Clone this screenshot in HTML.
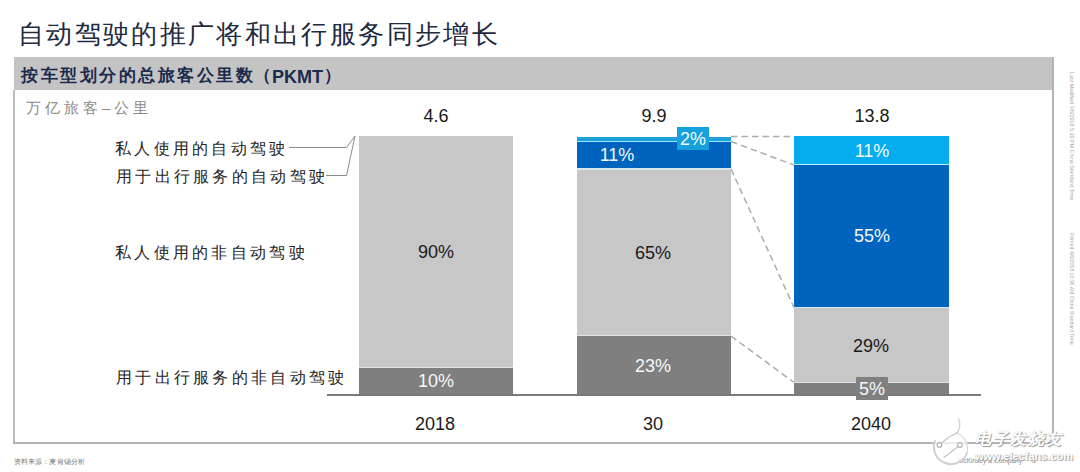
<!DOCTYPE html>
<html><head><meta charset="utf-8">
<style>
html,body{margin:0;padding:0;background:#fff;}
body{width:1080px;height:472px;position:relative;overflow:hidden;font-family:"Liberation Sans",sans-serif;}
.a{position:absolute;}
.t{position:absolute;white-space:nowrap;line-height:1;}
.num{font-size:18px;color:#1a1a1a;text-align:center;width:80px;}
.w{color:#f4f8fb;}
.cj{font-size:16px;letter-spacing:3.3px;color:#262626;}
</style></head><body>
<!-- title -->
<div class="t" style="left:18px;top:21px;font-size:26px;letter-spacing:2.35px;color:#1f2b3f;">自动驾驶的推广将和出行服务同步增长</div>
<!-- header bar -->
<div class="a" style="left:14px;top:57px;width:1040px;height:33px;background:#c4c4c4;"></div>
<div class="t" style="left:21px;top:67px;font-size:17px;font-weight:bold;letter-spacing:2.5px;color:#1a2b4c;">按车型划分的总旅客公里数</div>
<div class="t" style="left:254px;top:67px;font-size:17px;font-weight:bold;color:#1a2b4c;">（</div>
<div class="t" style="left:272px;top:68px;font-size:18px;font-weight:bold;color:#1a2b4c;">PKMT</div>
<div class="t" style="left:324px;top:67px;font-size:17px;font-weight:bold;color:#1a2b4c;">）</div>
<!-- frame -->
<div class="a" style="left:13px;top:90px;width:2px;height:354px;background:#bcbcbc;"></div>
<div class="a" style="left:13px;top:442px;width:1041px;height:2px;background:#b4b4b4;"></div>
<div class="a" style="left:1052px;top:57px;width:2px;height:387px;background:#b4b4b4;"></div>
<!-- unit -->
<div class="t" style="left:26px;top:100px;font-size:15px;letter-spacing:4px;color:#8a8a8a;">万亿旅客–公里</div>

<!-- bars -->
<div class="a" style="left:359px;top:136px;width:154px;height:231px;background:#c7c7c7;"></div>
<div class="a" style="left:359px;top:367px;width:154px;height:1px;background:#e2e2e2;"></div>
<div class="a" style="left:359px;top:368px;width:154px;height:27px;background:#7f7f7f;"></div>

<div class="a" style="left:577px;top:137px;width:154px;height:4px;background:#1e9fd6;"></div>
<div class="a" style="left:577px;top:141px;width:154px;height:1px;background:#8fe6ff;"></div>
<div class="a" style="left:577px;top:142px;width:154px;height:26px;background:#0064be;"></div>
<div class="a" style="left:577px;top:168px;width:154px;height:2px;background:#d6e8f2;"></div>
<div class="a" style="left:577px;top:170px;width:154px;height:165px;background:#c7c7c7;"></div>
<div class="a" style="left:577px;top:335px;width:154px;height:1px;background:#e2e2e2;"></div>
<div class="a" style="left:577px;top:336px;width:154px;height:59px;background:#7f7f7f;"></div>

<div class="a" style="left:794px;top:136px;width:155px;height:28px;background:#05adef;"></div>
<div class="a" style="left:794px;top:164px;width:155px;height:1px;background:#bff0ff;"></div>
<div class="a" style="left:794px;top:165px;width:155px;height:142px;background:#0064be;"></div>
<div class="a" style="left:794px;top:307px;width:155px;height:1px;background:#d6e8f2;"></div>
<div class="a" style="left:794px;top:308px;width:155px;height:74px;background:#c7c7c7;"></div>
<div class="a" style="left:794px;top:382px;width:155px;height:1px;background:#e2e2e2;"></div>
<div class="a" style="left:794px;top:383px;width:155px;height:12px;background:#7f7f7f;"></div>

<!-- baseline -->
<div class="a" style="left:327px;top:394px;width:654px;height:2px;background:#7a7a7a;"></div>

<!-- label boxes -->
<div class="a" style="left:677px;top:127px;width:32px;height:23px;background:#16a0dc;"></div>
<div class="a" style="left:856px;top:377px;width:32px;height:23px;background:#808080;"></div>

<svg class="a" style="left:0;top:0" width="1080" height="472">
  <g stroke="#acacac" stroke-width="1.5" stroke-dasharray="6.5 4" fill="none">
    <line x1="731" y1="136.5" x2="794" y2="136.5"/>
    <line x1="731" y1="141.5" x2="794" y2="165"/>
    <line x1="731" y1="169" x2="794" y2="307.5"/>
    <line x1="731" y1="336" x2="794" y2="382.5"/>
  </g>
  <g stroke="#8c8c8c" stroke-width="1" fill="none">
    <polyline points="289,147.5 346.5,147.5 355,136"/>
    <polyline points="326,175.5 346.5,175.5 355,136"/>
  </g>
</svg>

<!-- numbers -->
<div class="t num" style="left:396px;top:107px;">4.6</div>
<div class="t num" style="left:614px;top:107px;">9.9</div>
<div class="t num" style="left:832px;top:107px;">13.8</div>

<div class="t num" style="left:396px;top:243px;">90%</div>
<div class="t num w" style="left:396px;top:372px;">10%</div>

<div class="t num w" style="left:577px;top:146px;">11%</div>
<div class="t num w" style="left:653px;top:130px;">2%</div>
<div class="t num" style="left:613px;top:244px;">65%</div>
<div class="t num w" style="left:613px;top:357px;">23%</div>

<div class="t num w" style="left:832px;top:142px;">11%</div>
<div class="t num w" style="left:832px;top:227px;">55%</div>
<div class="t num" style="left:831px;top:337px;">29%</div>
<div class="t num w" style="left:832px;top:380px;">5%</div>

<div class="t num" style="left:395px;top:415px;">2018</div>
<div class="t num" style="left:613px;top:415px;">30</div>
<div class="t num" style="left:831px;top:415px;">2040</div>

<!-- left labels -->
<div class="t cj" style="left:115px;top:141px;">私人使用的自动驾驶</div>
<div class="t cj" style="left:116px;top:169px;">用于出行服务的自动驾驶</div>
<div class="t cj" style="left:115px;top:245px;">私人使用的非自动驾驶</div>
<div class="t cj" style="left:116px;top:370px;">用于出行服务的非自动驾驶</div>

<!-- source -->
<div class="t" style="left:14px;top:458px;font-size:7px;color:#7a7a7a;letter-spacing:0.1px;">资料来源：麦肯锡分析</div>

<!-- rotated side texts -->
<div class="t" style="left:1066px;top:72px;font-size:5.4px;color:#a8a8a8;transform-origin:0 0;transform:translate(8px,0) rotate(90deg);">Last Modified 4/6/2018 5:30 PM China Standard Time</div>
<div class="t" style="left:1066px;top:233px;font-size:5.2px;color:#a8a8a8;transform-origin:0 0;transform:translate(8px,0) rotate(90deg);">Printed 4/6/2018 10:36 AM China Standard Time</div>

<!-- watermark -->
<div class="t" style="left:958px;top:458px;font-size:6.5px;color:#8a8a8a;">McKinsey &amp; Company</div>
<div class="t" style="left:1032px;top:458px;font-size:6.5px;color:#8a8a8a;">5</div>
<svg class="a" style="left:0;top:0" width="1080" height="472">
  <circle cx="951" cy="447" r="17" fill="rgba(255,255,255,0.75)"/>
  <g fill="none" stroke-linecap="round">
    <path d="M935,441 A17,17 0 0 0 967,453" stroke="#cfcfcf" stroke-width="2"/>
    <path d="M967,453 A17,17 0 0 0 956.5,433" stroke="#d8d8d8" stroke-width="1.3"/>
    <path d="M958.5,418.5 C960.5,424 961,429 956.5,433" stroke="#cfcfcf" stroke-width="1.3"/>
    <path d="M956.5,433 C950,436 946,439 941.5,443" stroke="#c4c4c4" stroke-width="1.3"/>
    <path d="M958,446.5 L944,457.5" stroke="#c4c4c4" stroke-width="1.3"/>
    <circle cx="939.5" cy="445" r="2.3" stroke="#b4b4b4" stroke-width="1.2" fill="#fff"/>
    <circle cx="960" cy="445" r="2.3" stroke="#b4b4b4" stroke-width="1.2" fill="#fff"/>
  </g>
</svg>
<div class="t" style="left:975px;top:431px;font-size:16px;color:#fff;letter-spacing:1.5px;text-shadow:1px 1px 1px #9a9a9a, 0 0 1px #bbb;font-style:italic;font-weight:bold;">电子发烧友</div>
<div class="t" style="left:975px;top:451px;font-size:11px;font-weight:bold;color:#fff;text-shadow:1px 1px 1px #9a9a9a, 0 0 1px #bbb;">www.elecfans.com</div>
</body></html>
